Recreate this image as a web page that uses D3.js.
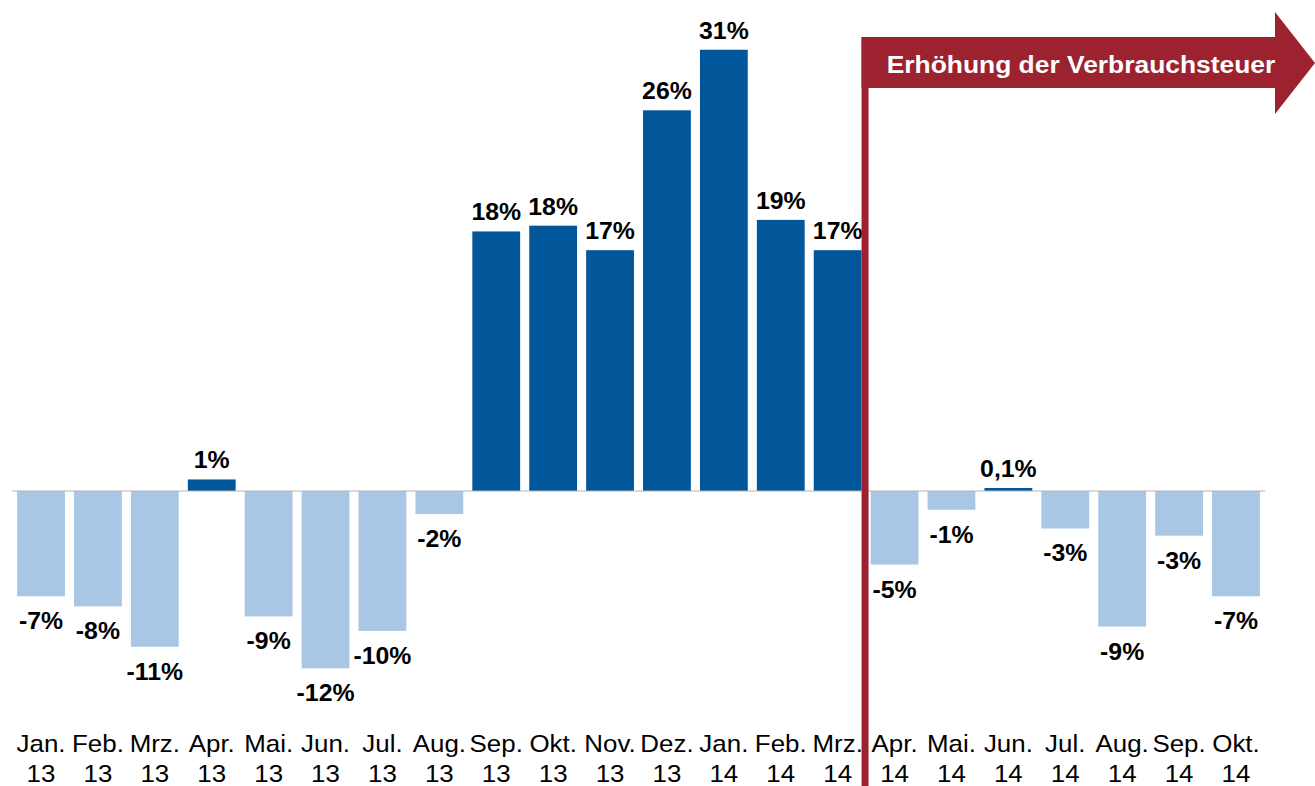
<!DOCTYPE html>
<html>
<head>
<meta charset="utf-8">
<script src="https://cdn.jsdelivr.net/npm/d3@7"></script>
<style>
  body { margin: 0; background: #fff; }
  text { font-family: "Liberation Sans", Arial, sans-serif; }
</style>
</head>
<body>
<div id="chart"></div>
<script>
// data
var months = ["Jan.", "Feb.", "Mrz.", "Apr.", "Mai.", "Jun.", "Jul.", "Aug.", "Sep.", "Okt.", "Nov.", "Dez.",
              "Jan.", "Feb.", "Mrz.", "Apr.", "Mai.", "Jun.", "Jul.", "Aug.", "Sep.", "Okt."];
var years = ["13", "13", "13", "13", "13", "13", "13", "13", "13", "13", "13", "13",
             "14", "14", "14", "14", "14", "14", "14", "14", "14", "14"];
var values = [-7.3, -8.0, -10.8, 0.8, -8.7, -12.3, -9.7, -1.6, 18.0, 18.4, 16.7, 26.4,
              30.6, 18.8, 16.7, -5.1, -1.3, 0.1, -2.6, -9.4, -3.1, -7.3];
var labels = ["-7%", "-8%", "-11%", "1%", "-9%", "-12%", "-10%", "-2%", "18%", "18%", "17%", "26%",
              "31%", "19%", "17%", "-5%", "-1%", "0,1%", "-3%", "-9%", "-3%", "-7%"];
var bannerText = "Erhöhung der Verbrauchsteuer";

var width = 1315, height = 786;

var svg = d3.select("#chart")
  .append("svg")
    .attr("width", width)
    .attr("height", height);

var keys = d3.range(months.length);

// x scale
var x = d3.scaleBand()
  .domain(keys)
  .range([12, 1265])
  .paddingInner(0.16)
  .paddingOuter(0.09);

// y scale (zero at 491)
var y = d3.scaleLinear()
  .domain([-15, 30])
  .range([491 + 15 * 14.42, 491 - 30 * 14.42]);

// bars
svg.append("g")
  .selectAll("rect")
  .data(keys)
  .enter()
  .append("rect")
    .attr("x", function(i) { return x(i); })
    .attr("width", x.bandwidth())
    .attr("y", function(i) {
      var h = Math.max(Math.abs(y(values[i]) - y(0)), 3);
      return values[i] >= 0 ? y(0) - h : y(0);
    })
    .attr("height", function(i) { return Math.max(Math.abs(y(values[i]) - y(0)), 3); })
    .style("fill", function(i) { return values[i] >= 0 ? "#02569A" : "#A9C6E4"; });

// zero line
svg.append("line")
  .attr("x1", 12).attr("x2", 1265)
  .attr("y1", y(0)).attr("y2", y(0))
  .style("stroke", "#b4b4b4")
  .style("stroke-width", 1);

// value labels
svg.append("g")
  .selectAll("text")
  .data(keys)
  .enter()
  .append("text")
    .attr("transform", function(i) {
      var ty = values[i] >= 0 ? Math.min(y(values[i]), y(0) - 3) - 11 : y(values[i]) + 33;
      return "translate(" + (x(i) + x.bandwidth() / 2) + "," + ty + ") scale(1.08,1)";
    })
    .attr("text-anchor", "middle")
    .style("font-size", "23px")
    .style("font-weight", "bold")
    .style("fill", "#000")
    .text(function(i) { return labels[i]; });

// x axis with two-line labels
var xAxis = svg.append("g")
  .call(d3.axisBottom(x).tickSize(0).tickFormat(""));
xAxis.select(".domain").remove();
xAxis.selectAll(".tick text").remove();
xAxis.selectAll(".tick").each(function(i) {
  var t = d3.select(this).append("text")
    .attr("text-anchor", "middle")
    .attr("transform", "scale(1.08,1)")
    .style("font-size", "24px")
    .style("fill", "#000");
  t.append("tspan").attr("x", 0).attr("y", 752).text(months[i]);
  t.append("tspan").attr("x", 0).attr("y", 782).text(years[i]);
});

// marker for the tax increase: vertical line + arrow banner
var lineX = x(14) + x.bandwidth();
var red = "#9D2230";
svg.append("rect")
  .attr("x", lineX)
  .attr("y", 37)
  .attr("width", 7)
  .attr("height", height - 37)
  .style("fill", red);

svg.append("path")
  .attr("d", "M" + lineX + ",37 H1275 V12 L1315,63 L1275,114 V88 H" + lineX + " Z")
  .style("fill", red);

svg.append("text")
  .attr("transform", "translate(" + 1081 + "," + 73 + ") scale(1.1,1)")
  .attr("text-anchor", "middle")
  .style("font-size", "24px")
  .style("font-weight", "bold")
  .style("fill", "#fff")
  .text(bannerText);
</script>
</body>
</html>
